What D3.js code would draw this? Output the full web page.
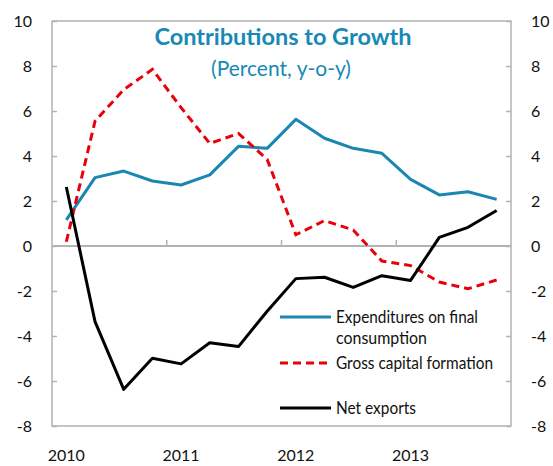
<!DOCTYPE html>
<html><head><meta charset="utf-8">
<script src="https://cdn.jsdelivr.net/npm/d3@7"></script>
<style>body{margin:0;background:#fff}svg{display:block}</style>
</head><body>
<svg id="c" width="553" height="466"></svg>
<script>
const quarters = ["2010Q1","2010Q2","2010Q3","2010Q4","2011Q1","2011Q2","2011Q3","2011Q4","2012Q1","2012Q2","2012Q3","2012Q4","2013Q1","2013Q2","2013Q3","2013Q4"];
const consumption = [1.16,3.04,3.33,2.89,2.71,3.16,4.43,4.34,5.63,4.79,4.34,4.12,2.96,2.27,2.41,2.07];
const capital = [0.19,5.55,6.95,7.85,6.15,4.56,5.0,3.85,0.5,1.13,0.71,-0.67,-0.87,-1.6,-1.9,-1.51];
const netExports = [2.62,-3.36,-6.37,-4.99,-5.24,-4.3,-4.47,-2.9,-1.45,-1.39,-1.84,-1.32,-1.53,0.38,0.83,1.58];
const yTicks = [-8,-6,-4,-2,0,2,4,6,8,10];
const yearLabels = ["2010","2011","2012","2013"];

const svg = d3.select("#c");
const L = 52, R = 511, T = 21, B = 426;
const font = "Lato, 'Open Sans', sans-serif";
const teal = "#1789b4";
const x = d3.scaleBand().domain(quarters).range([L, R]).padding(0);
const y = d3.scaleLinear().domain([-8, 10]).range([B, T]);
const cx = q => x(q) + x.bandwidth() / 2;
const fmt = d => String(d);

// frame
svg.append("rect").attr("x", L).attr("y", T).attr("width", R - L).attr("height", B - T)
  .attr("fill", "none").attr("stroke", "#b3b3b3").attr("stroke-width", 1.5);

// left axis
const gl = svg.append("g").attr("transform", `translate(${L},0)`)
  .call(d3.axisLeft(y).tickValues(yTicks).tickSize(-5).tickPadding(20).tickFormat(fmt));
// right axis
const gr = svg.append("g").attr("transform", `translate(${R},0)`)
  .call(d3.axisRight(y).tickValues(yTicks).tickSize(-5).tickPadding(20).tickFormat(fmt));
[gl, gr].forEach(g => {
  g.select(".domain").remove();
  g.selectAll(".tick line").attr("stroke", "#b3b3b3").attr("stroke-width", 1.5);
  g.selectAll(".tick text").attr("font-family", font).attr("font-size", 16).attr("fill", "#111");
});

// zero axis with year boundary ticks
svg.append("line").attr("x1", L).attr("x2", R).attr("y1", y(0)).attr("y2", y(0))
  .attr("stroke", "#b3b3b3").attr("stroke-width", 2);
const gz = svg.append("g").attr("transform", `translate(0,${y(0)})`)
  .call(d3.axisBottom(x).tickValues(["2011Q1","2012Q1","2013Q1"]).tickSize(-6).tickFormat(""));
gz.select(".domain").remove();
gz.selectAll(".tick line").attr("stroke", "#b3b3b3").attr("stroke-width", 1.5)
  .attr("transform", `translate(${-x.bandwidth()/2},0)`);

// year labels at bottom
const gx = svg.append("g").attr("transform", `translate(0,${B})`)
  .call(d3.axisBottom(x).tickValues(yearLabels.map(yy => yy + "Q1")).tickSize(0).tickPadding(24)
    .tickFormat(d => d.slice(0, 4)));
gx.select(".domain").remove();
gx.selectAll(".tick text").attr("font-family", font).attr("font-size", 16).attr("fill", "#111");

// lines
const line = d3.line().x((d, i) => cx(quarters[i])).y(d => y(d));
svg.append("path").datum(consumption).attr("d", line).attr("fill", "none")
  .attr("stroke", "#1a87b2").attr("stroke-width", 3).attr("stroke-linejoin", "round");
svg.append("path").datum(capital).attr("d", line).attr("fill", "none")
  .attr("stroke", "#e8000b").attr("stroke-width", 3).attr("stroke-dasharray", "8,5");
svg.append("path").datum(netExports).attr("d", line).attr("fill", "none")
  .attr("stroke", "#000").attr("stroke-width", 3).attr("stroke-linejoin", "round");

// title
svg.append("text").attr("x", 283).attr("y", 45).attr("text-anchor", "middle")
  .attr("font-family", font).attr("font-weight", "bold").attr("font-size", 23.5).attr("fill", teal)
  .text("Contributions to Growth");
svg.append("text").attr("x", 281).attr("y", 76).attr("text-anchor", "middle")
  .attr("font-family", font).attr("font-size", 21).attr("fill", teal)
  .text("(Percent, y-o-y)");

// legend
const leg = [
  {label: ["Expenditures on final", "consumption"], w: [142, 91], color: "#1a87b2", dash: null, y: 317},
  {label: ["Gross capital formation"], w: [157], color: "#e8000b", dash: "8,5", y: 363},
  {label: ["Net exports"], w: [80], color: "#000", dash: null, y: 408}
];
leg.forEach(d => {
  svg.append("line").attr("x1", 280).attr("x2", 331).attr("y1", d.y).attr("y2", d.y)
    .attr("stroke", d.color).attr("stroke-width", 3).attr("stroke-dasharray", d.dash);
  d.label.forEach((t, i) => {
    svg.append("text").attr("x", 336).attr("y", d.y + 6 + i * 21)
      .attr("font-family", font).attr("font-size", 16.5).attr("fill", "#111")
      .attr("textLength", d.w[i]).attr("lengthAdjust", "spacingAndGlyphs").text(t);
  });
});
</script>
</body></html>
